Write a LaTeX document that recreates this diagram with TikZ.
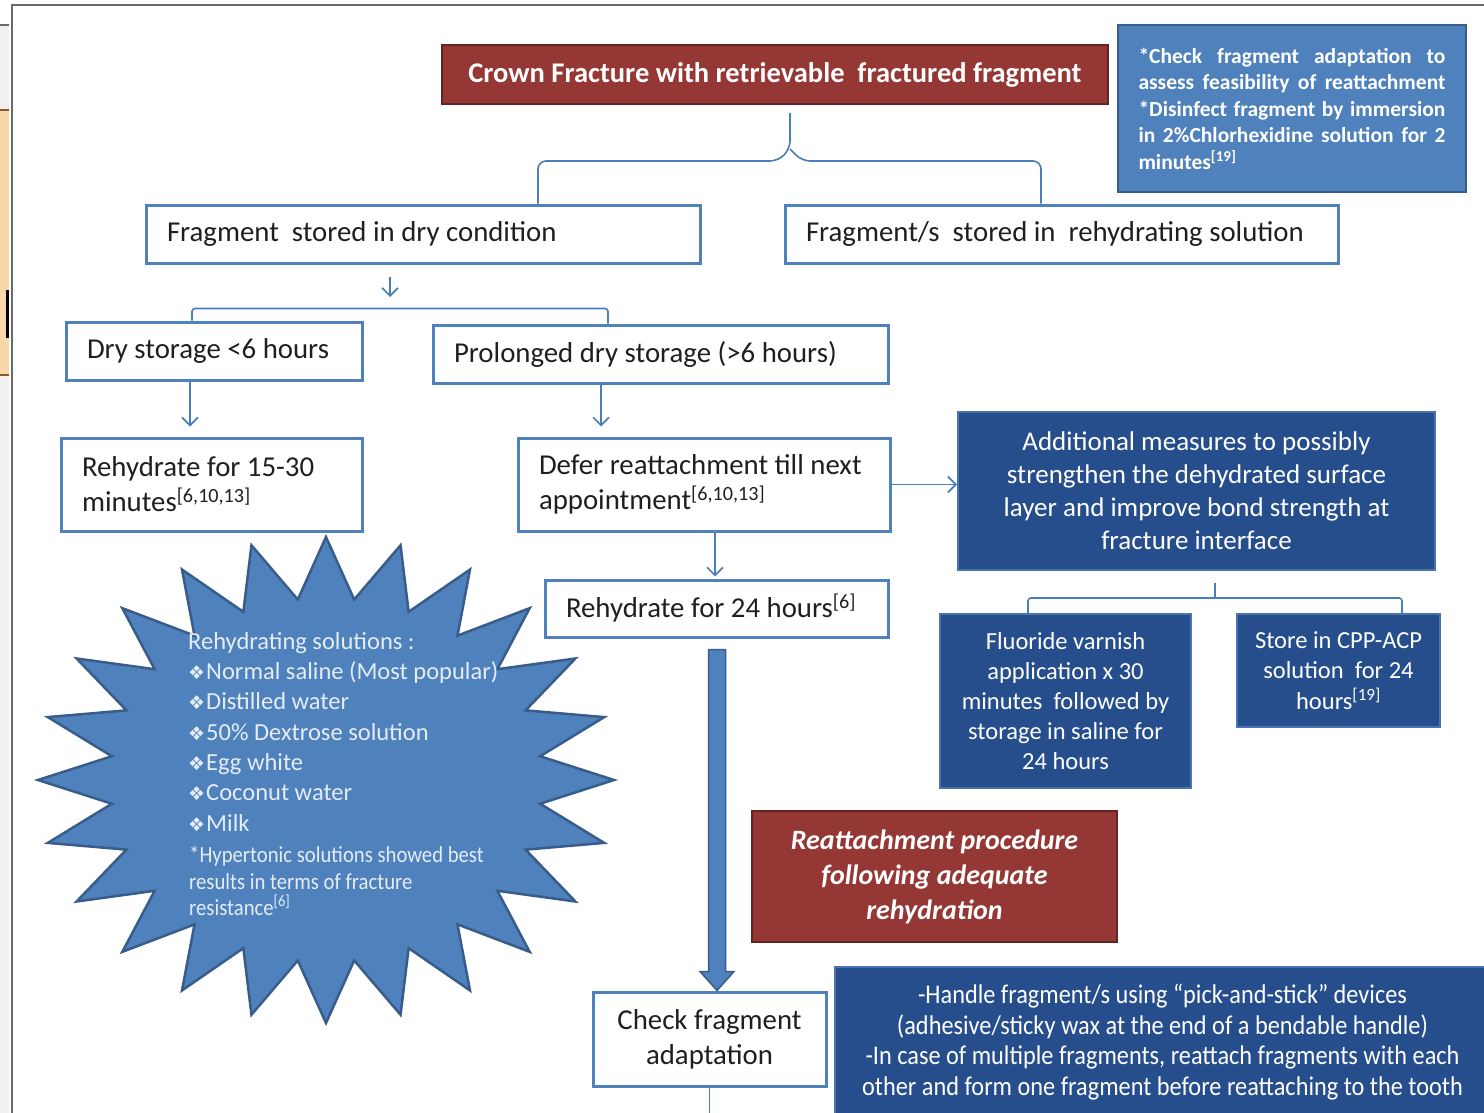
\documentclass[tikz,border=0pt]{standalone}
\usepackage{fontspec}
\setmainfont{Carlito}
\newfontfamily\narrowfont[FakeStretch=0.9]{Carlito}
\newfontfamily\symfont{DejaVu Sans}
\usepackage{xcolor}
\usetikzlibrary{arrows.meta,calc,positioning}

\definecolor{crownRed}{HTML}{953734}
\definecolor{crownRedLine}{HTML}{632523}
\definecolor{midBlue}{HTML}{4F81BD}
\definecolor{midBlueLine}{HTML}{385D8A}
\definecolor{navyBlue}{HTML}{264E8C}
\definecolor{navyLine}{HTML}{4A74B0}
\definecolor{linkBlue}{HTML}{4A7EBB}
\definecolor{paleText}{HTML}{E4ECF6}
\definecolor{frameGray}{HTML}{6A6A6A}
\definecolor{clipOrange}{HTML}{F8D8A8}
\definecolor{clipBrown}{HTML}{8B5A2B}

\newcommand{\bul}{{\symfont\fontsize{19}{19}\selectfont ❖}\kern1pt}
\newcommand{\noteline}[1]{\makebox[307pt][s]{#1}}

\begin{document}
\begin{tikzpicture}[x=1pt,y=-1pt,
box/.style={draw=midBlue,line width=3pt,fill=white,inner xsep=21pt,inner ysep=0pt,align=flush left,font=\fontsize{28.8}{35}\selectfont,text=black!88},
cbox/.style={box,align=center,inner xsep=0pt},
navybox/.style={fill=navyBlue,draw=navyLine,line width=2pt,text=white,align=center,inner sep=0pt},
redbox/.style={fill=crownRed,draw=crownRedLine,line width=2pt,text=white,align=center,inner sep=0pt},
notebox/.style={fill=midBlue,draw=midBlueLine,line width=2.5pt,text=white,align=flush left,inner xsep=20.5pt,inner ysep=0pt,font=\fontsize{21.5}{26.5}\selectfont\bfseries},
link/.style={draw=linkBlue,line width=1.6pt},
arr/.style={link,-{Straight Barb[length=8pt,width=16pt]}},
bigarrow/.style={fill=midBlue,draw=midBlueLine,line width=1.5pt,line join=miter},
burst/.style={fill=midBlue,draw=midBlueLine,line width=2.5pt,line join=miter},
burstText/.style={align=flush left,inner sep=0pt,text=paleText}]
\useasboundingbox (0,0) rectangle (1484,1113);
\fill[white] (0,0) rectangle (1484,1113);

% edge of the neighbouring slide
\fill[black!6] (0,25) rectangle (9,1113);
\draw[frameGray,line width=1.5pt] (0,25) -- (9,25);
\fill[clipOrange] (0,110) rectangle (9,375);
\draw[clipBrown,line width=2pt] (0,110) -- (9,110) (0,375) -- (9,375);
\fill[black] (6,290) rectangle (9,338);
\draw[frameGray,line width=2pt] (12,1113) -- (12,5) -- (1484,5);

% rehydrating solutions star
\draw[burst] (614,780) \foreach \k in {1,...,47} {
  -- ({326+ifthenelse(isodd(\k),216,288)*cos(7.5*\k)},{780-ifthenelse(isodd(\k),182,243)*sin(7.5*\k)})} -- cycle;
\node[burstText,anchor=north west,font=\fontsize{24.5}{30.3}\selectfont] (solList) at (188,632)
  {Rehydrating solutions :\\\bul Normal saline (Most popular)\\\bul Distilled water\\\bul 50\% Dextrose solution\\\bul Egg white\\\bul Coconut water\\\bul Milk};
\node[burstText,anchor=north west,font=\narrowfont\fontsize{23}{26.5}\selectfont] (solNote) at (189,846)
  {*Hypertonic solutions showed best\\results in terms of fracture\\resistance\textsuperscript{[6]}};

% boxes
\node[redbox,minimum width=666pt,minimum height=59pt,font=\fontsize{28.5}{35}\selectfont\bfseries] (title) at (775,74.5) {Crown Fracture with retrievable\ \ fractured fragment};
\node[notebox,text width=307pt,minimum height=167pt] (note) at (1292,108.5)
  {\noteline{*Check fragment adaptation to}\\\noteline{assess feasibility of reattachment}\\\noteline{*Disinfect fragment by immersion}\\\noteline{in 2\%Chlorhexidine solution for 2}\\minutes\textsuperscript{[19]}};
\node[box,text width=512pt,minimum height=58pt] (dry) at (423,234) {Fragment\ \ stored in dry condition};
\node[box,text width=511pt,minimum height=58pt] (wetStore) at (1061.5,234) {Fragment/s\ \ stored in\ \ rehydrating solution};
\node[box,text width=254pt,minimum height=58pt] (dryShort) at (214,351) {Dry storage <6 hours};
\node[box,text width=413pt,minimum height=58pt] (dryLong) at (660.5,354) {Prolonged dry storage (>6 hours)};
\node[box,text width=259pt,minimum height=93pt] (rehydShort) at (211.5,484.5) {Rehydrate for 15-30\\minutes\textsuperscript{[6,10,13]}};
\node[box,text width=330pt,minimum height=93pt] (defer) at (704,484.5) {Defer reattachment till next\\appointment\textsuperscript{[6,10,13]}};
\node[box,text width=301pt,minimum height=57pt] (rehydLong) at (716.5,608.5) {Rehydrate for 24 hours\textsuperscript{[6]}};
\node[navybox,minimum width=477pt,minimum height=158pt,font=\fontsize{27}{33}\selectfont] (extra) at (1196.5,491)
  {Additional measures to possibly\\strengthen the dehydrated surface\\layer and improve bond strength at\\fracture interface};
\node[navybox,minimum width=251pt,minimum height=174pt,font=\fontsize{24.5}{30.2}\selectfont] (fluor) at (1065.5,701)
  {Fluoride varnish\\application x 30\\minutes\ \ followed by\\storage in saline for\\24 hours};
\node[navybox,minimum width=203pt,minimum height=113pt,font=\fontsize{24.5}{30.2}\selectfont] (cpp) at (1338.5,670.5)
  {Store in CPP-ACP\\solution\ \ for 24\\hours\textsuperscript{[19]}};
\node[redbox,minimum width=365pt,minimum height=131pt,font=\fontsize{28}{35}\selectfont\bfseries\itshape] (reattach) at (934.5,876.5)
  {Reattachment procedure\\following adequate\\rehydration};
\node[cbox,minimum width=233pt,minimum height=94pt] (check) at (709.5,1039) {Check fragment\\adaptation};
\node[navybox,minimum width=655pt,minimum height=150pt,font=\narrowfont\fontsize{27}{30.5}\selectfont] (handle) at (1162.5,1042)
  {-Handle fragment/s using “pick-and-stick” devices\\(adhesive/sticky wax at the end of a bendable handle)\\-In case of multiple fragments, reattach fragments with each\\other and form one fragment before reattaching to the tooth};

% connectors
\coordinate (braceTip) at ([xshift=15pt,yshift=-8pt]title.south);
\draw[link,rounded corners=8pt] ([xshift=115pt]dry.north) |- ($(braceTip)+(-12,48)$) -- ($(braceTip)+(0,36)$) -- (braceTip);
\draw[link,rounded corners=8pt] ([xshift=-20.5pt]wetStore.north) |- ($(braceTip)+(12,48)$) -- ($(braceTip)+(0,36)$);

\coordinate (drySplit) at (390,297);
\draw[arr,shorten <=12pt] (dry.south -| drySplit) -- (drySplit);
\draw[link,rounded corners=3pt] ([xshift=-22pt]dryShort.north) -- ++(0,-12) -| ([xshift=-52.5pt]dryLong.north);
\draw[arr,shorten >=10pt] ([xshift=-24pt]dryShort.south) -- ([xshift=-24pt]dryShort.south |- rehydShort.north);
\draw[arr,shorten >=10pt] ([xshift=-59.5pt]dryLong.south) -- ([xshift=-59.5pt]dryLong.south |- defer.north);
\draw[arr] (defer.east) -- (defer.east -| extra.west);
\draw[arr,shorten >=2pt] ([xshift=11pt]defer.south) -- ([xshift=11pt]defer.south |- rehydLong.north);

\coordinate (extraSplit) at (1215,598);
\draw[link] ([xshift=18.5pt,yshift=-12pt]extra.south) -- (extraSplit);
\draw[link,rounded corners=3pt] ([xshift=-37.5pt]fluor.north) |- (extraSplit) -| ([xshift=63.5pt]cpp.north);

\coordinate (bigTop) at ([xshift=0.5pt,yshift=-11pt]rehydLong.south);
\coordinate (bigTip) at (check.north -| bigTop);
\draw[bigarrow] ($(bigTop)+(-8.5,0)$) -- ($(bigTop)+(8.5,0)$) -- ($(bigTip)+(8.5,-19)$) -- ($(bigTip)+(17,-19)$) -- (bigTip)
  -- ($(bigTip)+(-17,-19)$) -- ($(bigTip)+(-8.5,-19)$) -- cycle;

\coordinate (offPage) at (710,1120);
\draw[link] (check.south) -- (check.south |- offPage);
\end{tikzpicture}
\end{document}
